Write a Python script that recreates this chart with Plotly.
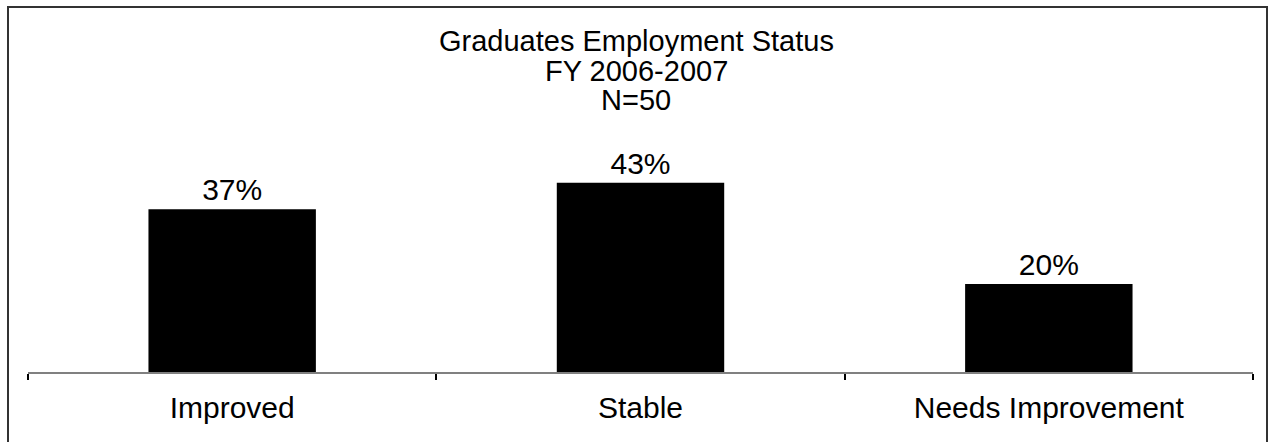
import plotly.graph_objects as go

categories = ["Improved", "Stable", "Needs Improvement"]
values = [37, 43, 20]
labels = ["37%", "43%", "20%"]
title_lines = ["Graduates Employment Status", "FY 2006-2007", "N=50"]

W, H = 1272, 442
ML, MR, MT, MB = 28, 19, 152, 70
PW = W - ML - MR
PH = H - MT - MB
FONT = "Liberation Sans, Arial, sans-serif"

def px_to_paper_x(px):
    return (px - ML) / PW

def px_to_paper_y(py):
    return (H - MB - py) / PH

fig = go.Figure(go.Bar(
    x=categories, y=values, text=labels, textposition="outside",
    marker=dict(color="black", line=dict(width=0)),
    textfont=dict(family=FONT, size=30, color="black"),
    cliponaxis=False,
))

annotations = []
for i, (line, yc) in enumerate(zip(title_lines, [41, 71, 100])):
    annotations.append(dict(
        text=line, xref="paper", yref="paper",
        x=px_to_paper_x(636), y=px_to_paper_y(yc),
        xanchor="center", yanchor="middle", showarrow=False,
        font=dict(family=FONT, size=29, color="black"),
    ))

fig.update_layout(
    width=W, height=H,
    margin=dict(l=ML, r=MR, t=MT, b=MB, pad=0),
    paper_bgcolor="white", plot_bgcolor="white",
    showlegend=False, bargap=0.59,
    annotations=annotations,
    shapes=[dict(type="rect", xref="paper", yref="paper",
                 x0=px_to_paper_x(8), x1=px_to_paper_x(1267),
                 y0=px_to_paper_y(446), y1=px_to_paper_y(7),
                 line=dict(color="#333333", width=2), fillcolor="rgba(0,0,0,0)",
                 layer="above")],
    xaxis=dict(
        range=[-0.5, 2.5], showgrid=False, zeroline=False,
        showline=True, linecolor="#808080", linewidth=2,
        ticks="outside", tickson="boundaries", ticklen=6, tickwidth=2, tickcolor="black",
        ticklabelstandoff=8,
        tickfont=dict(family=FONT, size=30, color="black"),
    ),
    yaxis=dict(range=[0, 50], visible=False, showgrid=False, zeroline=False),
)

fig.write_html("out.html")
